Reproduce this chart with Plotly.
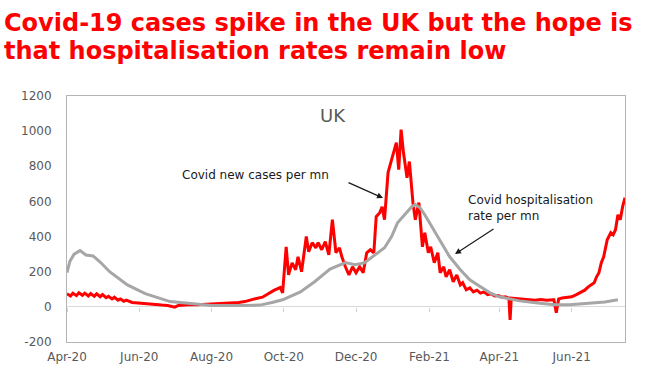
import pandas as pd
import plotly.graph_objects as go

START = "2020-04-01"

# Covid new cases per mn (days since 1 Apr 2020, value)
case_days = [0, 3, 5, 8, 10, 13, 15, 18, 20, 23, 25, 28, 30, 33, 35, 38, 40, 43, 45, 48, 50,
             55, 60, 65, 70, 75, 80, 85, 88, 91, 94, 100, 105, 110, 115, 120, 125, 130, 135,
             140, 145, 150, 155, 160, 165, 170, 175, 180, 182, 185, 187, 190, 193, 195, 198,
             202, 204, 207, 210, 212, 215, 218, 221, 224, 227, 230, 232, 235, 238, 241, 244,
             247, 250, 253, 256, 259, 261, 264, 266, 268, 271, 274, 276, 278, 280, 282, 284,
             287, 289, 292, 294, 297, 300, 302, 305, 307, 310, 313, 315, 318, 320, 323, 326,
             329, 332, 334, 337, 340, 343, 346, 349, 352, 355, 358, 361, 364, 367, 370, 373,
             374, 375, 378, 381, 385, 390, 395, 400, 405, 410, 411, 413, 415, 418, 422, 426,
             430, 433, 437, 440, 443, 445, 447, 449, 451, 453, 456, 459, 461, 463, 465, 467,
             469, 471]
case_vals = [74, 62, 78, 64, 80, 66, 78, 62, 76, 60, 74, 58, 70, 52, 60, 45, 55, 38, 45, 32, 38,
             25, 22, 18, 14, 12, 10, 8, 3, -2, 8, 12, 14, 12, 14, 12, 14, 16, 18,
             20, 25, 30, 40, 48, 55, 75, 95, 110, 80, 342, 182, 250, 211, 285, 200,
             400, 314, 365, 336, 365, 325, 371, 296, 496, 308, 336, 285, 228, 182, 228, 194,
             228, 194, 308, 325, 308, 513, 536, 570, 496, 764, 838, 895, 935, 781, 1009, 878,
             735, 827, 593, 496, 593, 342, 422, 308, 342, 251, 308, 194, 228, 171, 211, 143,
             182, 125, 137, 97, 108, 85, 95, 78, 85, 70, 75, 62, 65, 55, 58, 50,
             -74, 50, 48, 45, 42, 40, 38, 42, 38, 40, 40, -34, 45, 51, 55, 57,
             70, 80, 95, 114, 130, 137, 171, 194, 251, 285, 382, 422, 410, 439, 524, 496,
             570, 621]

# Covid hospitalisation rate per mn
hosp_days = [0, 2.5, 6, 11, 16, 22, 28, 36, 51, 66, 87, 112, 122, 146, 163, 173, 182, 197, 209,
             222, 235, 243, 251, 260, 268, 274, 279, 285, 291, 294, 298, 302, 306, 315, 323,
             332, 340, 349, 357, 365, 382, 399, 412, 424, 441, 454, 465]
hosp_vals = [195, 260, 300, 320, 295, 290, 255, 200, 125, 75, 30, 12, 8, 8, 10, 25, 40, 85, 143,
             215, 252, 240, 250, 296, 336, 400, 478, 524, 570, 582, 564, 524, 478, 382, 285,
             211, 154, 114, 80, 57, 34, 20, 12, 12, 20, 28, 40]

x_tick_vals = ["2020-04-01", "2020-06-01", "2020-08-01", "2020-10-01", "2020-12-01",
               "2021-02-01", "2021-04-01", "2021-06-01"]
x_tick_text = ["Apr-20", "Jun-20", "Aug-20", "Oct-20", "Dec-20", "Feb-21", "Apr-21", "Jun-21"]
y_tick_vals = [-200, 0, 200, 400, 600, 800, 1000, 1200]
y_tick_text = ["-200", "0", "200", "400", "600", "800", "1000", "1200"]
x_end = "2021-07-16"

title_lines = ["Covid-19 cases spike in the UK but the hope is",
               "that hospitalisation rates remain low"]

start = pd.Timestamp(START)
case_x = [start + pd.Timedelta(days=d) for d in case_days]
hosp_x = [start + pd.Timedelta(hours=d * 24) for d in hosp_days]

fig = go.Figure()
fig.add_trace(go.Scatter(x=hosp_x, y=hosp_vals, mode="lines", xaxis="x2",
                         line=dict(color="#a6a6a6", width=3), showlegend=False))
fig.add_trace(go.Scatter(x=case_x, y=case_vals, mode="lines",
                         line=dict(color="#ff0000", width=3), showlegend=False))

PX0, PY0, PW, PH = 67, 96, 558, 246


def px(x):
    return (x - PX0) / PW


def py(y):
    return (PY0 + PH - y) / PH


tick_font = dict(family="DejaVu Sans", size=12, color="#595959")
fig.update_layout(
    width=654, height=371,
    margin=dict(l=67, r=29, t=96, b=29, autoexpand=False),
    paper_bgcolor="white", plot_bgcolor="white",
    font=dict(family="DejaVu Sans"),
    xaxis=dict(type="date", range=[START, x_end], tickvals=x_tick_vals, ticktext=x_tick_text,
               showgrid=False, zeroline=False, showline=True, mirror=True, automargin=False,
               linecolor="#b4b4b4", linewidth=1, ticks="", tickfont=tick_font,
               ticklabelstandoff=4),
    xaxis2=dict(type="date", matches="x", overlaying="x", anchor="free", position=1/7,
                tickvals=x_tick_vals, showticklabels=False, ticks="outside", ticklen=4,
                tickcolor="#d0d0d0", showline=False, showgrid=False, zeroline=False,
                automargin=False),
    yaxis=dict(range=[-200, 1200], tickvals=y_tick_vals, ticktext=y_tick_text,
               showgrid=False, zeroline=True, zerolinecolor="#d9d9d9", zerolinewidth=1,
               showline=True, mirror=True, linecolor="#b4b4b4", linewidth=1, automargin=False,
               ticks="", tickfont=tick_font, ticklabelstandoff=12),
)

for line, yc in zip(title_lines, [23, 51]):
    fig.add_annotation(text=line, xref="paper", yref="paper", x=px(2), y=py(yc),
                       xanchor="left", yanchor="middle", align="left", showarrow=False,
                       font=dict(family="DejaVu Sans", size=24, color="#ff0000", weight="bold"))
fig.add_annotation(text="UK", xref="paper", yref="paper", x=px(333), y=py(115),
                   xanchor="center", yanchor="middle", showarrow=False,
                   font=dict(family="DejaVu Sans", size=18, color="#595959"))
fig.add_annotation(text="Covid new cases per mn", xref="paper", yref="paper",
                   x=px(180), y=py(175), xanchor="left", yanchor="middle",
                   showarrow=False, font=dict(family="DejaVu Sans", size=12, color="#1a1a1a"))
fig.add_annotation(text="Covid hospitalisation<br>rate per mn", xref="paper", yref="paper",
                   x=px(466), y=py(208), xanchor="left", yanchor="middle",
                   align="left", showarrow=False,
                   font=dict(family="DejaVu Sans", size=12, color="#1a1a1a"))
fig.add_annotation(text="", xref="paper", yref="paper", x=px(383), y=py(198),
                   ax=-36, ay=-16, showarrow=True, arrowhead=2, arrowsize=1, arrowwidth=1.2,
                   arrowcolor="#1a1a1a")
fig.add_annotation(text="", xref="paper", yref="paper", x=px(455), y=py(254),
                   ax=40, ay=-26, showarrow=True, arrowhead=2, arrowsize=1, arrowwidth=1.2,
                   arrowcolor="#1a1a1a")

fig.write_html("out.html", config={"displayModeBar": False},
               post_script="document.body.style.margin='0px';")
